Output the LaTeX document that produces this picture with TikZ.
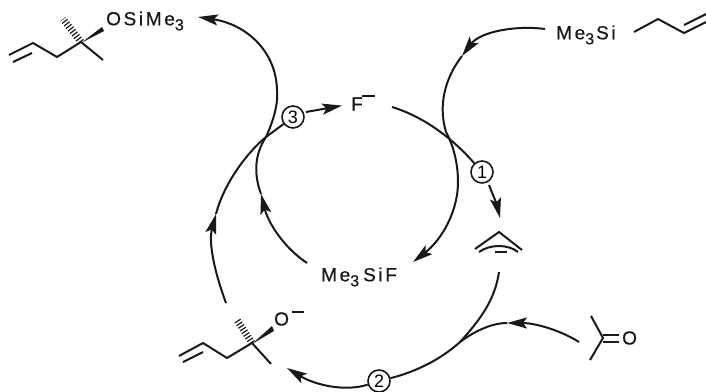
\documentclass[tikz,border=0pt]{standalone}
\usepackage{fontspec}
\setmainfont{Liberation Sans}
\newfontfamily\chemfont[LetterSpace=14,FakeBold=0.6]{Liberation Sans}
\usetikzlibrary{arrows.meta,positioning,calc}
\newcommand{\subthree}{\raisebox{-5pt}{\fontsize{16}{16}\selectfont 3}}
\tikzset{
  label/.style={font=\chemfont\fontsize{19}{21}\selectfont, inner sep=0pt, text=black!90},
  stepnum/.style={draw=black!90, circle, line width=1.6pt, fill=white, inner sep=0pt, minimum size=22pt, font=\fontsize{18}{18}\selectfont},
  curve/.style={line width=2pt, draw=black!90},
  arrow/.style={curve, -{Stealth[length=20pt,width=11pt,inset=4pt]}},
  bond/.style={line width=2pt, draw=black!90},
  wedge/.style={fill=black!90, draw=none},
  hashbond/.style={draw=black!90, line width=7pt, dash pattern=on 1.2pt off 2pt}
}
\begin{document}
\begin{tikzpicture}[x=1pt, y=-1pt]
  \useasboundingbox (0,0) rectangle (706,391);
  % labels
  \node[label, anchor=west] (ether) at (106,21) {OSiMe\subthree};
  \node[label, anchor=west] (silane) at (556,35) {Me\subthree\hspace{2pt}Si};
  \node[label, anchor=west] (silylf) at (321,277) {Me\subthree\hspace{4pt}SiF};
  \node[label, anchor=west] (oxy) at (274,319) {O};
  \node[label, anchor=west] (fluoride) at (351,104) {F};
  \node[label, anchor=west] (ketoneo) at (622,338) {O};
  \draw[bond] (362,96) -- (375,96);
  \draw[bond] (292,312) -- (304,312);
  \node[stepnum] (stepone) at (482,172) {1};
  \node[stepnum] (steptwo) at (379,381) {2};
  \node[stepnum] (stepthree) at (293,117) {3};
  % crossing points and free ends
  \coordinate (crossl) at (266,137);
  \coordinate (crossr) at (446,132);
  \coordinate (crossb) at (460,342);
  \coordinate (etherend) at (198,17);
  \coordinate (silaneend) at (545,29);
  \coordinate (silanemid) at (462,56);
  \coordinate (ftail) at (392,107);
  \coordinate (allyltip) at (500,218);
  \coordinate (allyltail) at (499,272);
  \coordinate (silylftip) at (413,262);
  \coordinate (silyltail) at (307,263);
  \coordinate (silylmid) at (261,194);
  \coordinate (oxytail) at (226,303);
  \coordinate (oxymid) at (216,214);
  \coordinate (oxytip) at (287,368);
  \coordinate (ketotail) at (579,342);
  \coordinate (ketomid) at (507,323);
  % step 3
  \draw[arrow] (oxytail) .. controls (212,265) and (209,240) .. (oxymid);
  \draw[curve] (oxymid) .. controls (225,180) and (250,150) .. (crossl) -- (stepthree);
  \draw[arrow] (silyltail) .. controls (283,247) and (268,222) .. (silylmid);
  \draw[curve] (silylmid) .. controls (254,175) and (254,155) .. (crossl);
  \draw[arrow] (crossl) .. controls (276,115) and (278,100) .. (277,90) .. controls (276,50) and (245,24) .. (etherend);
  \draw[arrow, shorten >=9pt] (stepthree) ++(13,-5) -- (fluoride.west);
  % step 1
  \draw[curve] (ftail) .. controls (415,114) and (445,130) .. (stepone);
  \draw[arrow] (stepone) ++(7,13) .. controls (493,195) and (497,205) .. (allyltip);
  \draw[arrow] (silaneend) .. controls (515,25) and (480,32) .. (silanemid);
  \draw[curve] (silanemid) .. controls (445,78) and (438,105) .. (crossr);
  \draw[arrow] (crossr) .. controls (456,150) and (460,175) .. (457,195) .. controls (452,225) and (435,245) .. (silylftip);
  % step 2
  \draw[curve] (allyltail) .. controls (495,300) and (480,320) .. (crossb);
  \draw[arrow] (ketotail) .. controls (560,330) and (535,323) .. (ketomid);
  \draw[curve] (ketomid) .. controls (490,323) and (472,333) .. (crossb) .. controls (440,360) and (415,372) .. (steptwo);
  \draw[arrow] (steptwo) .. controls (345,392) and (315,385) .. (oxytip);
  % ether molecule
  \draw[bond] (9,55) -- (33,43) -- (57,57) -- (81,42) -- (103,60);
  \draw[bond] (13,62) -- (32,53);
  \fill[wedge] (81,43) -- (102,27) -- (104,31) -- cycle;
  \draw[hashbond] (81,42) -- (63,19);
  % silane chain
  \draw[bond] (634,32) -- (658,19) -- (684,33) -- (706,22);
  \draw[bond] (684,25) -- (706,14);
  % allyl anion
  \draw[bond] (475,249) -- (499,232) -- (522,250);
  \draw[bond] (479,252) .. controls (490,244) and (508,244) .. (518,252);
  \draw[bond] (495,252) -- (507,252);
  % acetone
  \draw[bond] (591,316) -- (603,338) -- (590,360);
  \draw[bond] (603,334.5) -- (619,334.5);
  \draw[bond] (603,341.5) -- (619,341.5);
  % alkoxide molecule
  \draw[bond] (179,356) -- (203,343) -- (227,358) -- (252,343) -- (271,364);
  \draw[bond] (183,362) -- (203,352);
  \fill[wedge] (252,344) -- (272,326) -- (274,331) -- cycle;
  \draw[hashbond] (252,343) -- (237,320);
\end{tikzpicture}
\end{document}
